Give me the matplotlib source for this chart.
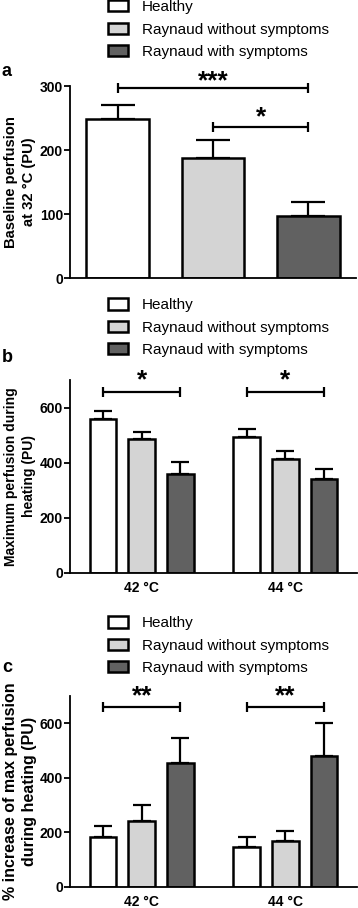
import matplotlib
matplotlib.use("Agg")
import matplotlib.pyplot as plt
from matplotlib.patches import Patch
import numpy as np

plt.rcParams['font.family'] = ['Liberation Sans', 'DejaVu Sans']

groups = ["Healthy", "Raynaud without symptoms", "Raynaud with symptoms"]
colors = ["#ffffff", "#d4d4d4", "#616161"]

# Panel a: baseline perfusion at 32 °C
a_mean = [248, 187, 97]
a_err = [23, 28, 22]

# Panel b: maximum perfusion during heating
temps = ["42 °C", "44 °C"]
b_mean = {"Healthy": [557, 494], "Raynaud without symptoms": [484, 414], "Raynaud with symptoms": [360, 342]}
b_err = {"Healthy": [29, 27], "Raynaud without symptoms": [28, 29], "Raynaud with symptoms": [43, 34]}

# Panel c: % increase of max perfusion during heating
c_mean = {"Healthy": [184, 147], "Raynaud without symptoms": [240, 169], "Raynaud with symptoms": [453, 481]}
c_err = {"Healthy": [40, 34], "Raynaud without symptoms": [61, 34], "Raynaud with symptoms": [94, 119]}

W, H = 358, 908
fig = plt.figure(figsize=(W / 100, H / 100), dpi=100)


def add_ax(l, r, top, bot):
    return fig.add_axes([l / W, 1 - bot / H, (r - l) / W, (bot - top) / H])


def style(ax, ymax, step):
    for s in ["top", "right"]:
        ax.spines[s].set_visible(False)
    for s in ["left", "bottom"]:
        ax.spines[s].set_linewidth(1.3)
    ax.set_ylim(0, ymax)
    ax.set_yticks(np.arange(0, ymax + 1, step) if ymax % step == 0 else np.arange(0, ymax, step))
    ax.tick_params(axis="y", length=4, width=1.3, pad=1, labelsize=10)
    ax.tick_params(axis="x", length=0, pad=6, labelsize=10)
    for lab in ax.get_yticklabels() + ax.get_xticklabels():
        lab.set_fontweight("bold")


def bracket(ax, x1, x2, y, stars, star_y):
    ax.plot([x1, x2], [y, y], color="k", lw=1.6, clip_on=False, solid_capstyle="butt")
    ax.plot([x1, x2], [y, y], ls="none", marker="|", ms=7.5, mew=1.6, color="k", clip_on=False)
    fs = 19
    ax.annotate(stars, xy=((x1 + x2) / 2, star_y), xytext=(0, -0.44 * fs), textcoords="offset points",
                ha="center", va="baseline", fontsize=fs, fontweight="bold", annotation_clip=False)


def legend(ax, ymid):
    handles = [Patch(facecolor=c, edgecolor="k", linewidth=1.8) for c in colors]
    fig.legend(handles, groups, loc="center left", bbox_to_anchor=(108 / W, 1 - ymid / H),
               bbox_transform=fig.transFigure, frameon=False, fontsize=11, borderpad=0,
               borderaxespad=0, handlelength=1.3, handleheight=0.75, handletextpad=0.9,
               labelspacing=0.55)


# ---- Panel a
ax = add_ax(70, 356, 86, 278)
x = np.arange(3)
ax.bar(x, a_mean, width=0.66, color=colors, edgecolor="k", linewidth=1.8, zorder=2)
ax.errorbar(x, a_mean, yerr=[np.zeros(3), a_err], fmt="none", ecolor="k", elinewidth=1.6,
            capsize=12, capthick=1.6, zorder=1)
ax.set_xlim(-0.5, 2.5)
ax.set_xticks([])
style(ax, 300, 100)
ax.set_ylabel("Baseline perfusion\nat 32 °C (PU)", fontsize=10.6, fontweight="bold", labelpad=3,
              linespacing=1.3)
bracket(ax, 0, 2, 297, "***", 315)
bracket(ax, 1, 2, 236, "*", 258)
legend(ax, 29.5)
fig.text(2 / W, 1 - 72 / H, "a", fontsize=13, fontweight="bold", va="center", ha="left")


def grouped(ax, mean, err, capsize):
    off = np.array([-0.27, 0, 0.27])
    xg = np.arange(2)
    for i, g in enumerate(groups):
        ax.bar(xg + off[i], mean[g], width=0.185, color=colors[i], edgecolor="k", linewidth=1.8, zorder=2)
        ax.errorbar(xg + off[i], mean[g], yerr=[np.zeros(2), err[g]], fmt="none", ecolor="k",
                    elinewidth=1.6, capsize=capsize, capthick=1.6, zorder=1)
    ax.set_xlim(-0.5, 1.5)
    ax.set_xticks(xg)
    ax.set_xticklabels(temps)


# ---- Panel b
ax = add_ax(70, 357, 380, 572.7)
grouped(ax, b_mean, b_err, 6.5)
style(ax, 700, 200)
ax.set_ylabel("Maximum perfusion during\nheating (PU)", fontsize=10, fontweight="bold", labelpad=3,
              linespacing=1.3)
for g in range(2):
    bracket(ax, g - 0.27, g + 0.27, 655, "*", 714)
legend(ax, 327.7)
fig.text(2 / W, 1 - 357 / H, "b", fontsize=13, fontweight="bold", va="center", ha="left")

# ---- Panel c
ax = add_ax(70, 357, 696, 886.7)
grouped(ax, c_mean, c_err, 6.5)
style(ax, 700, 200)
ax.set_ylabel("% increase of max perfusion\nduring heating (PU)", fontsize=11.5, fontweight="bold",
              labelpad=2, linespacing=1.3)
for g in range(2):
    bracket(ax, g - 0.27, g + 0.27, 659, "**", 716)
legend(ax, 645.7)
fig.text(2 / W, 1 - 667 / H, "c", fontsize=13, fontweight="bold", va="center", ha="left")

fig.savefig("out.png", dpi=100)
